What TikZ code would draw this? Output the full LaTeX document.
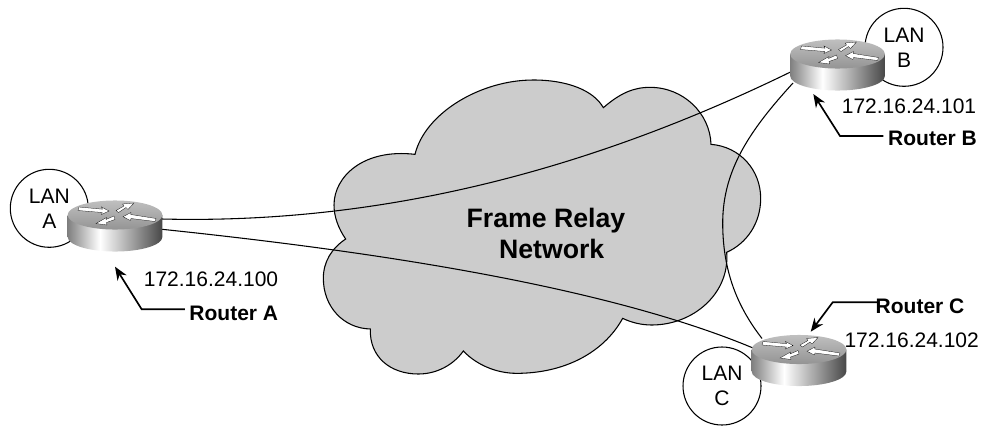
\documentclass[tikz,border=0pt]{standalone}
\usepackage{fontspec}
\setmainfont{Liberation Sans}
\usetikzlibrary{arrows.meta}
\definecolor{cloudgray}{gray}{0.8}
\pgfdeclarehorizontalshading{routerside}{100bp}{
    color(0bp)=(black!50); color(25bp)=(black!50); color(42bp)=(white);
    color(75bp)=(black!72); color(100bp)=(black!72)}
\tikzset{
    lan/.style = {circle,draw,fill=white,line width=0.8pt,inner sep=0,minimum size=58.5pt,align=center,font=\fontsize{15.75}{18.75}\selectfont},
    link/.style = {line width=0.8pt},
    addr/.style = {font=\fontsize{15.75}{18}\selectfont},
    rname/.style = {font=\fontsize{15.75}{18}\selectfont\bfseries},
    pointer/.style = {line width=1.25pt,-{Stealth[length=10pt,width=8pt]}},
    routerarrow/.style = {fill=white,draw=black,line width=0.2pt},
    router/.pic = {
        \shade[shading=routerside] (-47.3,0) -- (-47.3,22) arc (180:360:35.5pt and 10.9pt) -- (47.3,0) -- cycle;
        \shade[top color=black!25,bottom color=black!42] (0,0) ellipse (35.5pt and 10.9pt);
        \path[routerarrow] (-36,-8) -- (-12.5,-5.8) -- (-13.5,-8) -- (-6,-4) -- (-13.5,-0.5) -- (-12.7,-2.5) -- (-37,-4.5) -- cycle;
        \path[routerarrow] (8,1.7) -- (16,-2.5) -- (15.7,-0.5) -- (41,3.5) -- (40,6.5) -- (16,3.5) -- (15.3,5.5) -- cycle;
        \path[routerarrow] (1,-4.5) -- (9,-9) -- (7.5,-11) -- (19,-12) -- (13,-5.5) -- (11,-7.5) -- (3.5,-2.5) -- cycle;
        \path[routerarrow] (-1,1) -- (-9,4.5) -- (-8.5,2.5) -- (-19,8.5) -- (-8,10) -- (-8.5,7.5) -- (0,4.5) -- cycle;
    }
}

\begin{document}
\begin{tikzpicture}[x=0.75pt,y=-0.75pt]
    \useasboundingbox (0,0) rectangle (987,425);
    % LANs
    \node[lan] (lana) at (49.3,208.3) {LAN\\A};
    \node[lan] (lanb) at (904,47.3) {LAN\\B};
    \node[lan] (lanc) at (722,386) {LAN\\C};
    % Cloud
    \begin{scope}[shift={(310,60)},x=0.25pt,y=-0.25pt]
        \draw[fill=cloudgray,line width=0.8pt] (315,283)
            .. controls (345,160) and (510,60) .. (670,60)
            .. controls (770,60) and (850,90) .. (880,143)
            .. controls (930,100) and (970,82) .. (1020,82)
            .. controls (1120,82) and (1200,160) .. (1203,253)
            .. controls (1290,260) and (1352,330) .. (1352,415)
            .. controls (1352,490) and (1310,550) .. (1250,577)
            .. controls (1260,700) and (1150,795) .. (1025,795)
            .. controls (995,795) and (965,788) .. (938,775)
            .. controls (880,880) and (760,940) .. (620,940)
            .. controls (560,940) and (500,915) .. (460,873)
            .. controls (430,915) and (380,942) .. (325,942)
            .. controls (240,942) and (178,890) .. (181,807)
            .. controls (100,805) and (40,740) .. (40,655)
            .. controls (40,605) and (65,565) .. (107,537)
            .. controls (85,505) and (72,470) .. (72,435)
            .. controls (72,350) and (160,265) .. (315,283) -- cycle;
    \end{scope}
    \node[align=center,font=\fontsize{20}{23.25}\selectfont\bfseries] (frame) at (546,233.5) {Frame Relay\\\hspace{8.5pt}Network};
    % Routers
    \path (115,215) coordinate (ra);
    \path (837.5,54) coordinate (rb);
    \path (799,349.5) coordinate (rc);
    % Links
    \draw[link] ([shift={(47,4)}]ra) .. controls (400,225) and (610,160) .. ([shift={(-47,18)}]rb);
    \draw[link] ([shift={(47,14.3)}]ra) .. controls (360,250) and (600,284) .. ([shift={(-46,-1.5)}]rc);
    \draw[link] ([shift={(-44.5,29)}]rb) .. controls (750,130) and (722.7,170) .. (722.7,223)
        .. controls (722.7,275) and (740,310) .. ([shift={(-37,-11)}]rc);
    \foreach \rtr in {ra,rb,rc}
        \pic at (\rtr) {router};
    % Addresses
    \node[addr] (addra) at (211,279) {172.16.24.100};
    \node[addr] (addrb) at (909,106) {172.16.24.101};
    \node[addr] (addrc) at (911.7,340) {172.16.24.102};
    % Router names
    \node[rname] (namea) at (233.8,313) {Router A};
    \node[rname] (nameb) at (932.5,138) {Router B};
    \node[rname] (namec) at (920,306) {Router C};
    \path (115,266.7) coordinate (tipa);
    \path (813.3,94) coordinate (tipb);
    \path (810.7,331.7) coordinate (tipc);
    \draw[pointer] (namea.west |- 0,309.3) -- (141.7,309.3) -- (tipa);
    \draw[pointer] (nameb.west |- 0,136) -- (840,136) -- (tipb);
    \draw[pointer] ([shift={(7,-3.7)}]namec.west) -- (832.7,302.3) -- (tipc);
\end{tikzpicture}
\end{document}
